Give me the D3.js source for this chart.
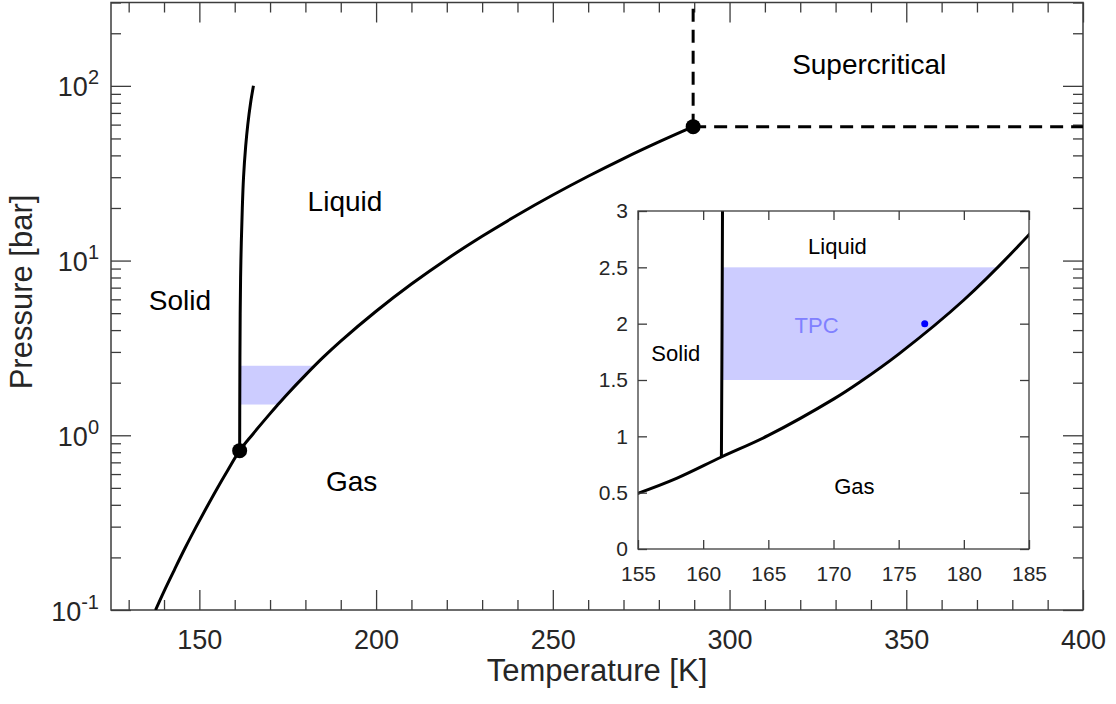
<!DOCTYPE html>
<html>
<head>
<meta charset="utf-8">
<script src="https://cdn.jsdelivr.net/npm/d3@7"></script>
<style>
  html, body { margin: 0; padding: 0; background: #fff; }
  svg { display: block; font-family: "Liberation Sans", Arial, Helvetica, sans-serif; }
</style>
</head>
<body>
<svg id="chart" width="1116" height="704"></svg>
<script>
// Xenon phase diagram: temperature in K, pressure in bar.

// Sublimation + vaporisation boundary (solid/gas below the triple point, liquid/gas above)
const vaporT = [137.6, 140, 143, 146, 149, 152, 155, 158, 161.4, 165, 170, 172, 175, 180, 185,
                190, 200, 210, 220, 230, 240, 250, 260, 270, 280, 289.7];
const vaporP = [0.100, 0.128, 0.171, 0.227, 0.297, 0.385, 0.495, 0.629, 0.8165, 1.008, 1.33, 1.48, 1.73, 2.21, 2.79,
                3.46, 5.13, 7.34, 10.19, 13.77, 18.23, 23.72, 30.38, 38.36, 47.75, 58.4];

// Melting boundary (solid/liquid)
const meltT = [161.4, 161.45, 161.55, 161.75, 162.15, 162.5, 163.1, 163.7, 164.5, 165.3];
const meltP = [0.8165, 2, 5, 10, 20, 30, 45, 60, 80, 100];

const triplePoint = [161.4, 0.8165];
const criticalPoint = [289.7, 58.4];

// Operating window of the TPC and its working point
const tpcPressure = [1.5, 2.5];
const tpcPoint = [177, 2.0];

// Axis ranges and ticks
const mainTRange = [125, 400];
const mainPRange = [0.1, 300];
const mainXTicks = [150, 200, 250, 300, 350, 400];
const mainXTickLabels = ["150", "200", "250", "300", "350", "400"];
const mainYTicks = [0.1, 1, 10, 100];
const mainYTickExponents = ["-1", "0", "1", "2"];

const insetTRange = [155, 185];
const insetPRange = [0, 3];
const insetXTicks = [155, 160, 165, 170, 175, 180, 185];
const insetXTickLabels = ["155", "160", "165", "170", "175", "180", "185"];
const insetYTicks = [0, 0.5, 1, 1.5, 2, 2.5, 3];
const insetYTickLabels = ["0", "0.5", "1", "1.5", "2", "2.5", "3"];

const vapor = vaporT.map((t, i) => [t, vaporP[i]]);
const melt = meltT.map((t, i) => [t, meltP[i]]);

const svg = d3.select("#chart");
const axisColor = "#3c3c3c";
const textColor = "#262626";
const bandColor = "#ccccff";

svg.append("rect").attr("width", 1116).attr("height", 704).attr("fill", "#fff");

// ---------- main panel ----------
const x = d3.scaleLinear().domain(mainTRange).range([111, 1083]);
const y = d3.scaleLog().domain(mainPRange).range([610, 2.5]);

const curve = d3.curveCatmullRom.alpha(0.5);

function styleAxis(g, size) {
  g.select(".domain").remove();
  g.selectAll(".tick line").attr("stroke", axisColor).attr("stroke-width", 1.3);
  g.selectAll(".tick text")
    .attr("fill", textColor)
    .attr("font-size", size)
    .attr("font-family", '"Liberation Sans", Arial, Helvetica, sans-serif');
}

const mainAxes = svg.append("g");
const xMinor = d3.range(130, 401, 10).filter(v => !mainXTicks.includes(v));
const yMinor = y.ticks().filter(v => !mainYTicks.some(m => Math.abs(m - v) < 1e-9));

// bottom
mainAxes.append("g").attr("transform", "translate(0,610)")
  .call(d3.axisBottom(x).tickValues(mainXTicks).tickSize(-20).tickSizeOuter(0)
        .tickPadding(20).tickFormat((d, i) => mainXTickLabels[i]))
  .call(g => styleAxis(g, 27));
mainAxes.append("g").attr("transform", "translate(0,610)")
  .call(d3.axisBottom(x).tickValues(xMinor).tickSize(-10).tickSizeOuter(0).tickFormat(""))
  .call(g => styleAxis(g, 27));
// top
mainAxes.append("g").attr("transform", "translate(0,2.5)")
  .call(d3.axisTop(x).tickValues(mainXTicks).tickSize(-20).tickSizeOuter(0).tickFormat(""))
  .call(g => styleAxis(g, 27));
mainAxes.append("g").attr("transform", "translate(0,2.5)")
  .call(d3.axisTop(x).tickValues(xMinor).tickSize(-10).tickSizeOuter(0).tickFormat(""))
  .call(g => styleAxis(g, 27));
// left
const leftAxis = mainAxes.append("g").attr("transform", "translate(111,0)")
  .call(d3.axisLeft(y).tickValues(mainYTicks).tickSize(-20).tickSizeOuter(0).tickPadding(12).tickFormat(""))
  .call(g => styleAxis(g, 27));
leftAxis.selectAll(".tick text").each(function (d, i) {
  const t = d3.select(this).attr("dy", null).attr("y", 10);
  t.append("tspan").text("10");
  t.append("tspan").attr("dy", -12).attr("font-size", 20).text(mainYTickExponents[i]);
});
mainAxes.append("g").attr("transform", "translate(111,0)")
  .call(d3.axisLeft(y).tickValues(yMinor).tickSize(-10).tickSizeOuter(0).tickFormat(""))
  .call(g => styleAxis(g, 27));
// right
mainAxes.append("g").attr("transform", "translate(1083,0)")
  .call(d3.axisRight(y).tickValues(mainYTicks).tickSize(-20).tickSizeOuter(0).tickFormat(""))
  .call(g => styleAxis(g, 27));
mainAxes.append("g").attr("transform", "translate(1083,0)")
  .call(d3.axisRight(y).tickValues(yMinor).tickSize(-10).tickSizeOuter(0).tickFormat(""))
  .call(g => styleAxis(g, 27));

mainAxes.append("rect")
  .attr("x", x.range()[0]).attr("y", y.range()[1])
  .attr("width", x.range()[1] - x.range()[0]).attr("height", y.range()[0] - y.range()[1])
  .attr("fill", "none").attr("stroke", axisColor).attr("stroke-width", 1.5);

// axis titles
svg.append("text")
  .attr("x", (x.range()[0] + x.range()[1]) / 2).attr("y", 681)
  .attr("text-anchor", "middle").attr("font-size", 31).attr("fill", textColor)
  .text("Temperature [K]");
svg.append("text")
  .attr("transform", "translate(32,292) rotate(-90)")
  .attr("text-anchor", "middle").attr("font-size", 31).attr("fill", textColor)
  .text("Pressure [bar]");

// TPC band, bounded on the right by the vapour curve
function drawBand(parent, xs, ys, id) {
  const linePath = d3.line().x(d => xs(d[0])).y(d => ys(d[1])).curve(curve)(vapor);
  const top = ys.range()[1] - 1000;
  parent.append("clipPath").attr("id", id)
    .append("path")
    .attr("d", linePath + `L${xs(criticalPoint[0])},${top}L${xs(vaporT[0]) - 1000},${top}Z`);
  parent.append("rect")
    .attr("clip-path", `url(#${id})`)
    .attr("x", xs(triplePoint[0]))
    .attr("y", ys(tpcPressure[1]))
    .attr("width", xs(criticalPoint[0]) - xs(triplePoint[0]))
    .attr("height", ys(tpcPressure[0]) - ys(tpcPressure[1]))
    .attr("fill", bandColor);
}

const mainPlot = svg.append("g");
mainPlot.append("clipPath").attr("id", "mainClip").append("rect")
  .attr("x", x.range()[0]).attr("y", y.range()[1])
  .attr("width", x.range()[1] - x.range()[0]).attr("height", y.range()[0] - y.range()[1]);
const mainInner = mainPlot.append("g").attr("clip-path", "url(#mainClip)");

drawBand(mainInner, x, y, "bandMain");

const lineMain = d3.line().x(d => x(d[0])).y(d => y(d[1])).curve(curve);
mainInner.append("path").attr("d", lineMain(vapor))
  .attr("fill", "none").attr("stroke", "#000").attr("stroke-width", 3);
mainInner.append("path").attr("d", lineMain(melt))
  .attr("fill", "none").attr("stroke", "#000").attr("stroke-width", 3);

// supercritical boundaries
mainInner.append("line")
  .attr("x1", x(criticalPoint[0])).attr("y1", y(criticalPoint[1]))
  .attr("x2", x(criticalPoint[0])).attr("y2", y(mainPRange[1]))
  .attr("stroke", "#000").attr("stroke-width", 3).attr("stroke-dasharray", "13,8");
mainInner.append("line")
  .attr("x1", x(criticalPoint[0])).attr("y1", y(criticalPoint[1]))
  .attr("x2", x(mainTRange[1])).attr("y2", y(criticalPoint[1]))
  .attr("stroke", "#000").attr("stroke-width", 3).attr("stroke-dasharray", "13,8");

[triplePoint, criticalPoint].forEach(p => {
  mainPlot.append("circle").attr("cx", x(p[0])).attr("cy", y(p[1])).attr("r", 7.5).attr("fill", "#000");
});

// region names
const mainLabels = [
  { text: "Solid", t: 144.5, p: 5.2 },
  { text: "Liquid", t: 191.2, p: 19.1 },
  { text: "Gas", t: 193.1, p: 0.48 },
  { text: "Supercritical", t: 339.5, p: 117 }
];
mainPlot.selectAll("text.region").data(mainLabels).join("text")
  .attr("class", "region")
  .attr("x", d => x(d.t)).attr("y", d => y(d.p))
  .attr("text-anchor", "middle").attr("font-size", 28).attr("fill", "#000")
  .text(d => d.text);

// ---------- inset ----------
const xi = d3.scaleLinear().domain(insetTRange).range([638, 1029]);
const yi = d3.scaleLinear().domain(insetPRange).range([549, 211]);

const inset = svg.append("g");
inset.append("rect")
  .attr("x", xi.range()[0]).attr("y", yi.range()[1])
  .attr("width", xi.range()[1] - xi.range()[0]).attr("height", yi.range()[0] - yi.range()[1])
  .attr("fill", "#fff");

inset.append("clipPath").attr("id", "insetClip").append("rect")
  .attr("x", xi.range()[0]).attr("y", yi.range()[1])
  .attr("width", xi.range()[1] - xi.range()[0]).attr("height", yi.range()[0] - yi.range()[1]);
const insetInner = inset.append("g").attr("clip-path", "url(#insetClip)");

drawBand(insetInner, xi, yi, "bandInset");

const lineInset = d3.line().x(d => xi(d[0])).y(d => yi(d[1])).curve(curve);
insetInner.append("path").attr("d", lineInset(vapor))
  .attr("fill", "none").attr("stroke", "#000").attr("stroke-width", 3);
insetInner.append("path").attr("d", lineInset(melt))
  .attr("fill", "none").attr("stroke", "#000").attr("stroke-width", 3);

inset.append("circle").attr("cx", xi(tpcPoint[0])).attr("cy", yi(tpcPoint[1]))
  .attr("r", 3.5).attr("fill", "#0000ff");

const insetLabels = [
  { text: "Liquid", t: 170.3, p: 2.62, color: "#000" },
  { text: "Solid", t: 157.9, p: 1.67, color: "#000" },
  { text: "Gas", t: 171.6, p: 0.49, color: "#000" },
  { text: "TPC", t: 168.7, p: 1.92, color: "#8080ff" }
];
inset.selectAll("text.region").data(insetLabels).join("text")
  .attr("class", "region")
  .attr("x", d => xi(d.t)).attr("y", d => yi(d.p))
  .attr("text-anchor", "middle").attr("font-size", 22).attr("fill", d => d.color)
  .text(d => d.text);

// inset axes
inset.append("g").attr("transform", `translate(0,${yi.range()[0]})`)
  .call(d3.axisBottom(xi).tickValues(insetXTicks).tickSize(-9).tickSizeOuter(0)
        .tickPadding(17).tickFormat((d, i) => insetXTickLabels[i]))
  .call(g => styleAxis(g, 21));
inset.append("g").attr("transform", `translate(0,${yi.range()[1]})`)
  .call(d3.axisTop(xi).tickValues(insetXTicks).tickSize(-9).tickSizeOuter(0).tickFormat(""))
  .call(g => styleAxis(g, 21));
inset.append("g").attr("transform", `translate(${xi.range()[0]},0)`)
  .call(d3.axisLeft(yi).tickValues(insetYTicks).tickSize(-9).tickSizeOuter(0)
        .tickPadding(10).tickFormat((d, i) => insetYTickLabels[i]))
  .call(g => styleAxis(g, 21));
inset.append("g").attr("transform", `translate(${xi.range()[1]},0)`)
  .call(d3.axisRight(yi).tickValues(insetYTicks).tickSize(-9).tickSizeOuter(0).tickFormat(""))
  .call(g => styleAxis(g, 21));
inset.append("rect")
  .attr("x", xi.range()[0]).attr("y", yi.range()[1])
  .attr("width", xi.range()[1] - xi.range()[0]).attr("height", yi.range()[0] - yi.range()[1])
  .attr("fill", "none").attr("stroke", axisColor).attr("stroke-width", 1.3);
</script>
</body>
</html>
